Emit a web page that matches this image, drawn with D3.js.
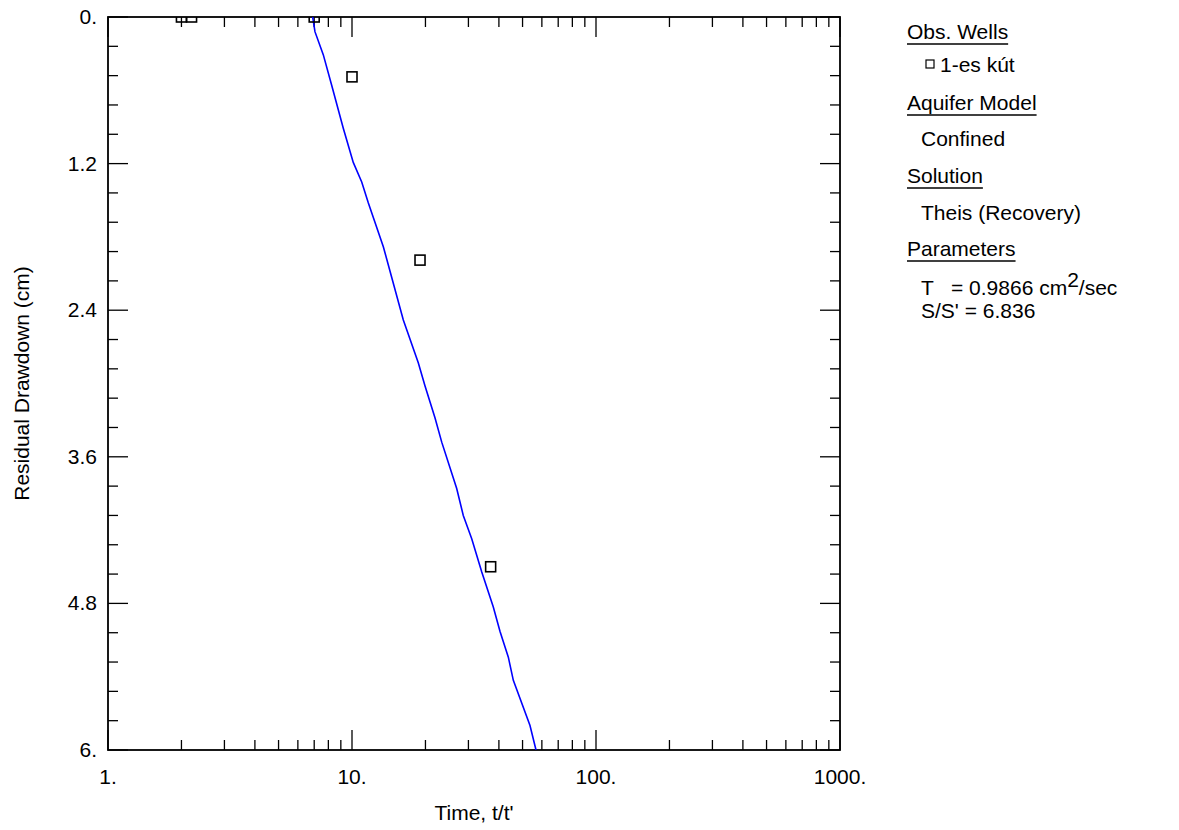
<!DOCTYPE html>
<html>
<head>
<meta charset="utf-8">
<script src="https://cdn.jsdelivr.net/npm/d3@7"></script>
<style>
  body { margin: 0; background: #fff; }
  text { font-family: Arial, 'Liberation Sans', sans-serif; fill: #000; }
</style>
</head>
<body>
<div id="chart"></div>
<script>
// observation well data (t/t', residual drawdown cm)
const obsTime = [2, 2.2, 7, 10, 19, 37];
const obsDrawdown = [0, 0, 0, 0.49, 1.99, 4.5];

// fitted Theis recovery curve
const curveTime = [6.9, 7.05, 7.63, 8.26, 9.21, 10.12, 10.96, 11.66, 13.44, 14.54, 16.23, 18.69, 19.92,
  21.88, 23.32, 26.86, 28.58, 30.95, 34.0, 37.94, 40.43, 43.72, 45.83, 53.64, 56.77];
const curveDrawdown = [0, 0.12, 0.31, 0.56, 0.91, 1.19, 1.35, 1.52, 1.88, 2.13, 2.48, 2.83, 3.02,
  3.28, 3.48, 3.86, 4.08, 4.27, 4.54, 4.83, 5.03, 5.24, 5.43, 5.8, 6.0];

const xTicks = [1, 10, 100, 1000];
const xTickLabels = ['1.', '10.', '100.', '1000.'];
const yTicks = [0, 1.2, 2.4, 3.6, 4.8, 6];
const yTickLabels = ['0.', '1.2', '2.4', '3.6', '4.8', '6.'];

const margin = { top: 17, right: 339, bottom: 80, left: 108 };
const width = 1179 - margin.left - margin.right;
const height = 830 - margin.top - margin.bottom;
const fs = '21px';

const svg = d3.select('#chart')
  .append('svg')
    .attr('width', 1179)
    .attr('height', 830);

const g = svg.append('g')
    .attr('transform', `translate(${margin.left}, ${margin.top})`);

const x = d3.scaleLog().domain([1, 1000]).range([0, width]);
const y = d3.scaleLinear().domain([0, 6]).range([0, height]);

g.append('clipPath').attr('id', 'clip')
  .append('rect').attr('width', width).attr('height', height);

// minor ticks
const xMinor = [];
for (let d = 1; d < 1000; d *= 10) {
  for (let k = 2; k < 10; k++) xMinor.push(d * k);
}
const yMinor = d3.range(0, 25).map(i => i * 0.24).filter(v => Math.abs(v / 1.2 - Math.round(v / 1.2)) > 0.01);

const ticks = g.append('g').attr('stroke', '#000').attr('stroke-width', 1.3);
function xTick(v, len) {
  ticks.append('line').attr('x1', x(v)).attr('x2', x(v)).attr('y1', height).attr('y2', height - len);
  ticks.append('line').attr('x1', x(v)).attr('x2', x(v)).attr('y1', 0).attr('y2', len);
}
function yTick(v, len) {
  ticks.append('line').attr('y1', y(v)).attr('y2', y(v)).attr('x1', 0).attr('x2', len);
  ticks.append('line').attr('y1', y(v)).attr('y2', y(v)).attr('x1', width).attr('x2', width - len);
}
xMinor.forEach(v => xTick(v, 10));
xTicks.forEach(v => xTick(v, 20));
yMinor.forEach(v => yTick(v, 10));
yTicks.forEach(v => yTick(v, 20));

// frame
g.append('rect')
    .attr('width', width)
    .attr('height', height)
    .attr('fill', 'none')
    .attr('stroke', '#000')
    .attr('stroke-width', 1.8);

// tick labels
g.selectAll('.xl')
  .data(xTicks)
  .join('text')
    .attr('x', d => x(d))
    .attr('y', height + 34)
    .attr('text-anchor', 'middle')
    .style('font-size', fs)
    .text((d, i) => xTickLabels[i]);

g.selectAll('.yl')
  .data(yTicks)
  .join('text')
    .attr('x', -11)
    .attr('y', d => y(d) + 7)
    .attr('text-anchor', 'end')
    .style('font-size', fs)
    .text((d, i) => yTickLabels[i]);

// axis titles
g.append('text')
    .attr('x', width / 2)
    .attr('y', height + 70)
    .attr('text-anchor', 'middle')
    .style('font-size', fs)
    .text("Time, t/t'");

g.append('text')
    .attr('transform', `translate(${-79}, ${height / 2}) rotate(-90)`)
    .attr('text-anchor', 'middle')
    .style('font-size', fs)
    .text('Residual Drawdown (cm)');

// curve
const curve = curveTime.map((t, i) => [t, curveDrawdown[i]]);
g.append('path')
    .datum(curve)
    .attr('clip-path', 'url(#clip)')
    .attr('fill', 'none')
    .attr('stroke', '#0000ff')
    .attr('stroke-width', 1.6)
    .attr('d', d3.line().x(d => x(d[0])).y(d => y(d[1])));

// observations
const obs = obsTime.map((t, i) => [t, obsDrawdown[i]]);
g.append('g')
    .attr('clip-path', 'url(#clip)')
  .selectAll('rect')
  .data(obs)
  .join('rect')
    .attr('x', d => x(d[0]) - 5)
    .attr('y', d => y(d[1]) - 5)
    .attr('width', 10)
    .attr('height', 10)
    .attr('fill', 'none')
    .attr('stroke', '#000')
    .attr('stroke-width', 1.6);

// legend
const lg = svg.append('g').attr('transform', 'translate(907, 0)');
const heads = [['Obs. Wells', 39], ['Aquifer Model', 110], ['Solution', 183], ['Parameters', 256]];
heads.forEach(function (h) {
  const t = lg.append('text')
      .attr('x', 0)
      .attr('y', h[1])
      .style('font-size', fs)
      .text(h[0]);
  const w = t.node().getComputedTextLength();
  lg.append('line')
      .attr('x1', 0).attr('x2', w)
      .attr('y1', h[1] + 5).attr('y2', h[1] + 5)
      .attr('stroke', '#000').attr('stroke-width', 1.3);
});

lg.append('rect')
    .attr('x', 19).attr('y', 60)
    .attr('width', 8).attr('height', 8)
    .attr('fill', 'none').attr('stroke', '#000').attr('stroke-width', 1.2);
lg.append('text').attr('x', 33).attr('y', 72).style('font-size', fs).text('1-es kút');
lg.append('text').attr('x', 14).attr('y', 146).style('font-size', fs).text('Confined');
lg.append('text').attr('x', 14).attr('y', 220).style('font-size', fs).text('Theis (Recovery)');

const tLine = lg.append('text').attr('x', 14).attr('y', 295).style('font-size', fs);
tLine.append('tspan').text('T');
tLine.append('tspan').attr('x', 44).text('= 0.9866 cm');
tLine.append('tspan').attr('dy', -8).text('2');
tLine.append('tspan').attr('dy', 8).text('/sec');
lg.append('text').attr('x', 14).attr('y', 318).style('font-size', fs).text("S/S' = 6.836");
</script>
</body>
</html>
